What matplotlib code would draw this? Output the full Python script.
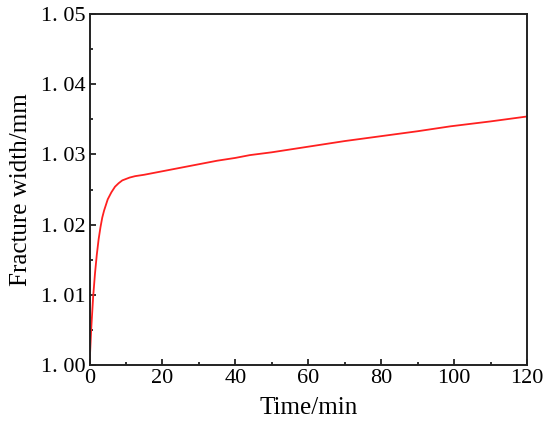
import numpy as np
import matplotlib.pyplot as plt
from matplotlib.ticker import MultipleLocator, FuncFormatter

# Values
time_min = [0, 0.5, 1.0, 1.5, 2.0, 2.5, 3.0, 3.5, 4.0, 5.0, 6.0, 7.0, 8.0,
            9.0, 10.0, 11.0, 12.5, 15.0, 17.0, 20.0, 25.0, 30.0, 35.0, 40.0,
            44.0, 50.0, 60.0, 70.0, 80.0, 90.0, 99.0, 110.0, 120.0]
width_mm = [1.0000, 1.0054, 1.0097, 1.0130, 1.0157, 1.0179, 1.0196, 1.0210,
            1.0220, 1.0236, 1.0246, 1.0254, 1.0259, 1.0263, 1.0265, 1.0267,
            1.0269, 1.0271, 1.0273, 1.0276, 1.0281, 1.0286, 1.0291, 1.0295,
            1.0299, 1.0303, 1.0311, 1.0319, 1.0326, 1.0333, 1.0340, 1.0347,
            1.0354]

plt.rcParams['font.family'] = ['Liberation Serif', 'DejaVu Serif']

fig = plt.figure(figsize=(5.5, 4.37), dpi=100)
ax = fig.add_axes([89.5 / 550, 1 - 365 / 437, (527 - 89.5) / 550, (365 - 14) / 437])

ax.plot(time_min, width_mm, color='#ff2020', lw=1.3)

ax.set_xlim(0, 120)
ax.set_ylim(1.00, 1.05)
ax.xaxis.set_major_locator(MultipleLocator(20))
ax.xaxis.set_minor_locator(MultipleLocator(10))
ax.yaxis.set_major_locator(MultipleLocator(0.01))
ax.yaxis.set_minor_locator(MultipleLocator(0.005))
ax.yaxis.set_major_formatter(FuncFormatter(lambda v, p: f'{v:.2f}'.replace('.', '. ')))

ax.tick_params(which='both', direction='in', top=False, right=False,
               width=1.3, labelsize=16, colors='#222222')
ax.tick_params(which='major', length=4.5, pad=3)
ax.tick_params(which='minor', length=2.5)
ax.tick_params(axis='x', labelcolor='black')
ax.tick_params(axis='y', labelcolor='black')
for s in ax.spines.values():
    s.set_linewidth(1.4)
    s.set_color('#222222')

ax.set_xlabel('Time/min', fontsize=18, labelpad=6)
ax.set_ylabel('Fracture width/mm', fontsize=18, labelpad=6)

fig.savefig('out.png', dpi=100)
